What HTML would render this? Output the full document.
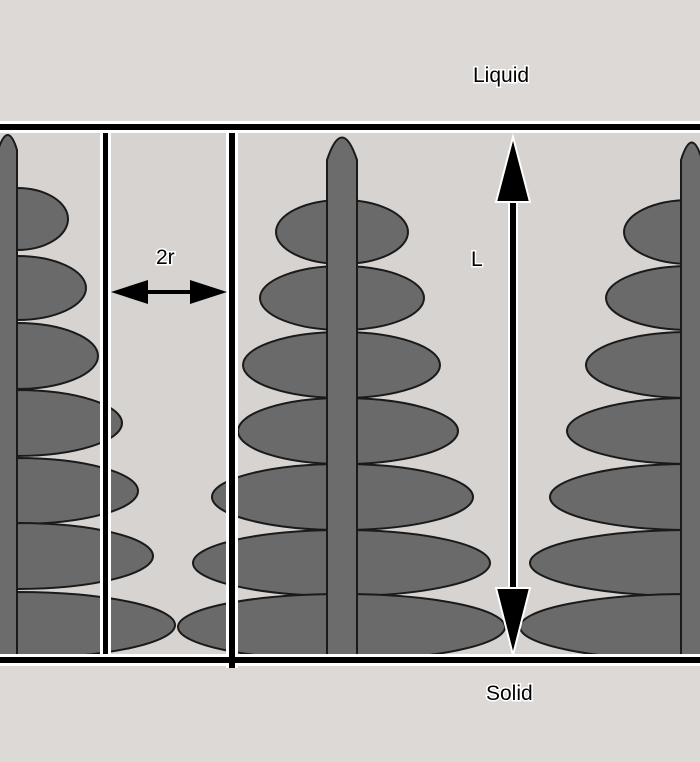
<!DOCTYPE html>
<html><head><style>
html,body{margin:0;padding:0;background:#dad7d4;}
svg{display:block}
text{font-family:"Liberation Sans",sans-serif;font-size:21px;fill:#000;stroke:#fff;stroke-width:3px;paint-order:stroke;}
</style></head><body>
<svg width="700" height="762" viewBox="0 0 700 762" xmlns="http://www.w3.org/2000/svg">
<rect x="0" y="0" width="700" height="762" fill="#dcd9d6"/>
<rect x="0" y="130" width="700" height="528" fill="#d6d3d0"/>
<g fill="#6a6a6a" stroke="#1a1a1a" stroke-width="2">
<path d="M17,188 A51,31 0 0 1 17,250 Z"/>
<path d="M17,256 A69,32 0 0 1 17,320 Z"/>
<path d="M17,323 A81,33 0 0 1 17,389 Z"/>
<path d="M17,390 A105,33 0 0 1 17,456 Z"/>
<path d="M17,458 A121,33 0 0 1 17,524 Z"/>
<path d="M17,523 A136,33 0 0 1 17,589 Z"/>
<path d="M17,592 A158,33 0 0 1 17,658 Z"/>
<path d="M342,200 A66,32 0 0 0 342,264 Z"/>
<path d="M342,200 A66,32 0 0 1 342,264 Z"/>
<path d="M342,266 A82,32 0 0 0 342,330 Z"/>
<path d="M342,266 A82,32 0 0 1 342,330 Z"/>
<path d="M342,332 A99,33 0 0 0 342,398 Z"/>
<path d="M342,332 A98,33 0 0 1 342,398 Z"/>
<path d="M342,398 A104,33 0 0 0 342,464 Z"/>
<path d="M342,398 A116,33 0 0 1 342,464 Z"/>
<path d="M342,464 A130,33 0 0 0 342,530 Z"/>
<path d="M342,464 A131,33 0 0 1 342,530 Z"/>
<path d="M342,530 A149,33 0 0 0 342,596 Z"/>
<path d="M342,530 A148,33 0 0 1 342,596 Z"/>
<path d="M342,594 A164,33 0 0 0 342,660 Z"/>
<path d="M342,594 A163,33 0 0 1 342,660 Z"/>
<path d="M690,200 A66,32 0 0 0 690,264 Z"/>
<path d="M690,266 A84,32 0 0 0 690,330 Z"/>
<path d="M690,332 A104,33 0 0 0 690,398 Z"/>
<path d="M690,398 A123,33 0 0 0 690,464 Z"/>
<path d="M690,464 A140,33 0 0 0 690,530 Z"/>
<path d="M690,530 A160,33 0 0 0 690,596 Z"/>
<path d="M690,594 A170,33 0 0 0 690,660 Z"/>
</g>
<g fill="#6c6c6c" stroke="#1a1a1a" stroke-width="2">
<path d="M-2,658 L-2,150 Q8,120 17,150 L17,658 Z"/>
<path d="M327,658 L327,160 Q342,115 357,160 L357,658 Z"/>
<path d="M681,658 L681,160 Q692,125 702,160 L702,658 Z"/>
</g>
<rect x="100" y="130" width="11" height="530" fill="#fff"/>
<rect x="103" y="130" width="5" height="530" fill="#000"/>
<rect x="226" y="130" width="12" height="538" fill="#fff"/>
<rect x="229" y="130" width="6" height="538" fill="#000"/>
<rect x="0" y="121" width="700" height="12" fill="#fff"/>
<rect x="0" y="124" width="700" height="6" fill="#000"/>
<rect x="0" y="654" width="700" height="12" fill="#fff"/>
<rect x="0" y="657" width="700" height="6" fill="#000"/>
<rect x="229" y="654" width="6" height="12" fill="#000"/>
<g fill="#000" stroke="#fff" stroke-width="2">
<rect x="509" y="195" width="8" height="400"/>
<path d="M513,137 L496,202 L530,202 Z"/>
<path d="M513,655 L496,588 L530,588 Z"/>
</g>
<g fill="#000">
<rect x="130" y="290" width="78" height="4"/>
<path d="M111,292 L148,280 L148,304 Z"/>
<path d="M227,292 L190,280 L190,304 Z"/>
</g>
<text x="473" y="82">Liquid</text>
<text x="486" y="700">Solid</text>
<text x="156" y="264">2r</text>
<text x="471" y="266">L</text>
</svg>
</body></html>
